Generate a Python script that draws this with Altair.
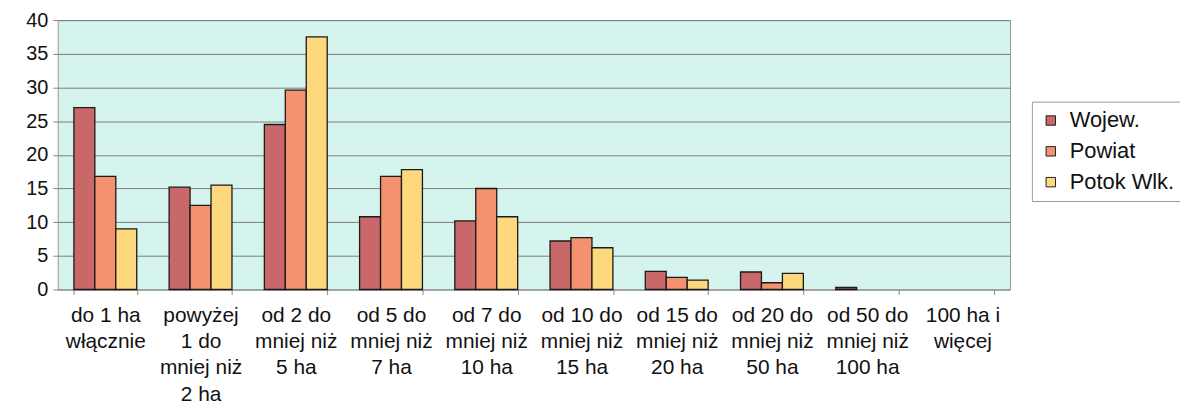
import altair as alt
import pandas as pd

categories = [
    "do 1 ha\nwłącznie",
    "powyżej\n1 do\nmniej niż\n2 ha",
    "od 2 do\nmniej niż\n5 ha",
    "od 5 do\nmniej niż\n7 ha",
    "od 7 do\nmniej niż\n10 ha",
    "od 10 do\nmniej niż\n15 ha",
    "od 15 do\nmniej niż\n20 ha",
    "od 20 do\nmniej niż\n50 ha",
    "od 50 do\nmniej niż\n100 ha",
    "100 ha i\nwięcej",
]
series = ["Wojew.", "Powiat", "Potok Wlk."]
wojew = [27.0, 15.2, 24.5, 10.8, 10.2, 7.2, 2.7, 2.6, 0.3, 0.0]
powiat = [16.8, 12.5, 29.6, 16.8, 15.0, 7.7, 1.8, 1.0, 0.0, 0.0]
potok = [9.0, 15.5, 37.5, 17.8, 10.8, 6.2, 1.4, 2.4, 0.0, 0.0]
colors = ["#c96868", "#f4916f", "#fdd87c"]

rows = []
for name, vals in zip(series, [wojew, powiat, potok]):
    for c, v in zip(categories, vals):
        rows.append({"kat": c, "seria": name, "wartosc": v})
df = pd.DataFrame(rows)

FONT = "Liberation Sans"

chart = (
    alt.Chart(df)
    .transform_filter("datum.wartosc > 0")
    .mark_bar(stroke="#1a1a1a", strokeWidth=1.3)
    .encode(
        x=alt.X(
            "kat:N",
            sort=categories,
            scale=alt.Scale(domain=categories, paddingInner=0.34, paddingOuter=0.17),
            axis=alt.Axis(
                title=None,
                labelAngle=0,
                labelExpr="split(datum.label, '\\n')",
                labelFont=FONT,
                labelFontSize=21,
                labelColor="#111111",
                labelLineHeight=26.5,
                labelPadding=10,
                tickBand="extent",
                tickSize=5,
                tickColor="#888888",
                domain=False,
                grid=False,
                labelLimit=200,
            ),
        ),
        xOffset=alt.XOffset("seria:N", sort=series, scale=alt.Scale(domain=series, paddingInner=0, paddingOuter=0)),
        y=alt.Y(
            "wartosc:Q",
            scale=alt.Scale(domain=[0, 40], nice=False),
            axis=alt.Axis(
                title=None,
                values=[0, 5, 10, 15, 20, 25, 30, 35, 40],
                labelFont=FONT,
                labelFontSize=20,
                labelColor="#111111",
                labelPadding=5,
                tickSize=5,
                tickColor="#888888",
                domain=False,
                grid=True,
                gridColor="#7d7d7d",
                gridWidth=1,
            ),
        ),
        color=alt.Color(
            "seria:N",
            sort=series,
            scale=alt.Scale(domain=series, range=colors),
            legend=alt.Legend(
                title=None,
                orient="none",
                legendX=980,
                legendY=82,
                symbolType="square",
                symbolSize=90,
                symbolStrokeColor="#222222",
                symbolStrokeWidth=1,
                labelFont=FONT,
                labelFontSize=22,
                labelColor="#111111",
                labelOffset=8,
                rowPadding=9,
                padding=8,
                fillColor="#ffffff",
                strokeColor="#9a9a9a",
            ),
        ),
    )
    .properties(
        width=958,
        height=271,
        padding={"left": 50, "top": 11, "right": 171, "bottom": 115},
        autosize="none",
        background="#ffffff",
    )
    .configure_view(fill="#d5f4ee", stroke="#9a9a9a", strokeWidth=1)
)

chart.save("out.html", embed_options={"renderer": "svg", "actions": False})
